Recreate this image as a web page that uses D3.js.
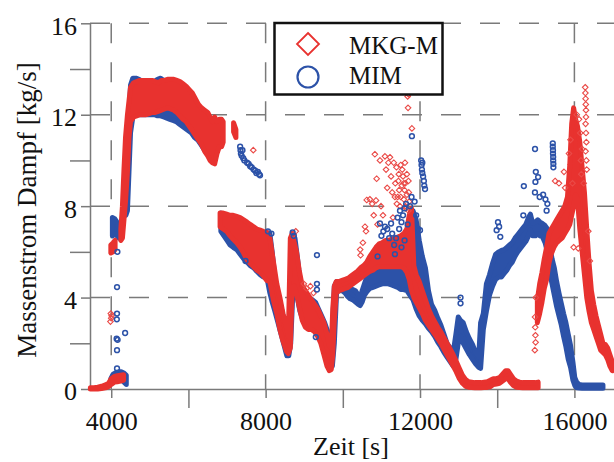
<!DOCTYPE html>
<html>
<head>
<meta charset="utf-8">
<script src="https://cdn.jsdelivr.net/npm/d3@7/dist/d3.min.js"></script>
<style>
  html, body { margin: 0; padding: 0; background: #fff; }
  svg { display: block; }
  text { font-family: "Liberation Serif", "Times New Roman", serif; fill: #111; }
</style>
</head>
<body>
<svg id="chart" width="614" height="462"></svg>
<script>
// Axis ticks
const xMajorTicks = [4000, 8000, 12000, 16000];
const xMinorTicks = [6000, 10000, 14000];
const yMajorTicks = [0, 4, 8, 12, 16];
const yMinorTicks = [2, 6, 10, 14];

const seriesNames = ["MKG-M", "MIM"];

// MKG-M: dense point bands, one row per time step [Zeit s, min kg/s, max kg/s]
const mkgRanges = [
  [3460,0.0,0.06],[3550,0.0,0.06],[3650,0.0,0.08],[3750,0.02,0.12],[3850,0.05,0.18],[3930,0.1,0.25],
  [4000,0.2,0.45],[4080,0.3,0.55],[4160,0.32,0.58],[4240,0.35,0.6],[4320,0.38,0.62],
  [3990,5.95,6.3],[4050,6.0,6.4],[4100,6.1,6.5],
  [4250,6.5,7.0],[4290,6.6,8.0],[4330,7.4,9.6],[4370,8.2,11.0],[4420,9.5,12.0],[4460,11.0,12.6],
  [4500,11.7,13.2],[4580,11.9,13.4],[4660,11.95,13.45],[4740,12.0,13.5],[4820,12.0,13.5],[4900,12.0,13.5],
  [4980,12.05,13.5],[5060,12.1,13.5],[5140,12.1,13.45],[5220,12.15,13.4],[5300,12.2,13.5],[5380,12.25,13.5],
  [5460,12.3,13.55],[5540,12.25,13.55],[5620,12.2,13.55],[5700,12.1,13.5],[5780,11.95,13.45],[5860,11.8,13.35],
  [5940,11.7,13.25],[6020,11.5,13.1],[6100,11.3,12.95],[6180,11.1,12.7],[6260,10.9,12.45],[6340,10.7,12.3],
  [6420,10.4,12.2],[6500,10.2,12.1],[6560,10.0,11.9],[6620,9.9,11.7],[6680,9.85,11.9],[6740,10.3,11.7],
  [6800,10.6,11.8],[6860,10.6,11.8],[6900,10.8,11.7],
  [7170,11.25,11.65],[7230,11.0,11.35],
  [6820,7.1,7.7],[6900,7.0,7.7],[6990,6.9,7.65],[7080,6.7,7.6],[7160,6.55,7.6],[7250,6.4,7.55],
  [7340,6.2,7.5],[7430,5.95,7.4],[7520,5.65,7.3],[7600,5.5,7.2],[7690,5.35,7.1],[7770,5.2,7.0],
  [7860,5.1,6.95],[7940,4.95,6.9],[8030,4.75,6.85],[8110,4.7,6.6],[8200,3.9,5.6],[8290,3.3,4.6],
  [8370,2.6,4.0],[8450,2.1,3.3],[8540,1.65,2.7],[8590,1.55,2.3],
  [8640,1.8,6.6],[8690,4.4,6.8],[8740,4.5,6.4],[8800,4.2,6.0],[8870,3.6,5.2],[8950,3.0,4.5],
  [9030,2.7,4.3],[9110,2.6,4.1],[9190,2.6,3.9],[9270,2.5,3.7],[9350,2.3,3.5],[9430,2.0,3.2],
  [9510,1.5,2.9],[9590,1.0,2.4],[9650,0.8,1.9],[9700,0.85,1.8],[9740,1.5,3.5],[9780,3.0,4.5],
  [9830,4.2,4.7],[9900,4.3,4.7],[9980,4.35,4.75],[10060,4.4,4.8],[10140,4.45,4.85],[10220,4.55,4.95],
  [10300,4.65,5.05],[10380,4.75,5.15],[10460,4.85,5.3],[10540,4.95,5.4],[10620,5.05,5.55],[10700,5.15,5.8],
  [10780,5.2,6.0],[10860,5.3,6.2],[10940,5.35,6.35],[11020,5.35,6.4],[11100,5.35,6.5],[11180,5.35,6.5],
  [11260,5.35,6.55],[11340,5.35,6.6],[11420,5.35,6.65],[11500,5.35,6.7],[11580,5.3,6.8],[11660,5.1,7.0],
  [11720,4.8,7.6],[11780,4.3,7.9],[11840,4.0,5.4],[11900,3.8,5.0],[11980,3.55,4.7],[12060,3.3,4.3],
  [12140,3.0,3.9],[12220,2.8,3.5],[12300,2.6,3.2],[12380,2.4,2.95],[12460,2.2,2.7],[12540,2.0,2.5],
  [12620,1.75,2.25],[12700,1.5,2.0],[12780,1.25,1.75],[12860,1.0,1.5],[12940,0.75,1.2],[13020,0.45,0.9],
  [13100,0.25,0.6],[13180,0.12,0.42],[13260,0.08,0.32],[13340,0.06,0.3],[13420,0.05,0.28],[13500,0.05,0.28],
  [13580,0.05,0.28],[13660,0.06,0.3],[13740,0.07,0.32],[13820,0.1,0.38],[13900,0.2,0.45],[13980,0.22,0.45],
  [14060,0.25,0.5],[14140,0.35,0.65],[14220,0.45,0.8],[14280,0.45,0.8],[14340,0.3,0.65],[14420,0.15,0.45],
  [14500,0.08,0.35],[14580,0.06,0.3],[14660,0.05,0.28],[14740,0.05,0.28],[14820,0.05,0.28],[14900,0.05,0.28],
  [14980,0.06,0.28],[15060,0.06,0.3],
  [15040,2.9,3.9],[15100,3.3,4.6],[15160,3.8,5.1],[15220,4.4,5.7],[15280,4.8,6.2],[15340,5.5,6.8],
  [15400,5.9,7.0],[15470,6.2,7.2],[15540,6.4,7.4],[15610,6.5,7.6],[15680,6.6,7.8],[15750,6.8,8.0],
  [15820,7.0,8.4],[15880,7.2,9.8],[15930,7.6,11.6],[15980,8.0,12.3],[16030,8.5,11.8],[16080,8.3,11.5],
  [16140,7.0,10.8],[16200,6.0,9.7],[16260,5.0,8.6],[16320,4.0,7.0],[16380,3.4,5.5],[16440,2.9,4.3],
  [16500,2.6,3.7],[16560,2.3,3.2],[16620,2.0,2.8],[16680,1.7,2.4],[16740,1.6,2.0],[16800,1.5,1.95],
  [16860,1.3,1.8],[16920,1.0,1.5],[16980,0.8,1.2]
];

// MKG-M: isolated points [Zeit s, kg/s]
const mkgPoints = [
  [3990,3.3],[4000,3.1],[3980,2.95],[4010,3.2],[7680,10.45],
  [8990,4.6],[9060,4.4],[9160,4.5],[9240,4.2],[8780,6.9],[8720,6.75],
  [10450,6.1],[10460,5.85],[10520,6.4],[10574,7.1],[10600,6.9],[10620,8.27],[10700,8.3],[10760,8.1],
  [10800,7.6],[10830,10.27],[10860,8.25],[10876,9.2],[10900,7.2],[10963,10.0],[10990,8.0],[11040,7.6],
  [11092,10.18],[11120,9.6],[11150,8.8],[11180,9.9],[11222,10.14],[11250,9.3],[11280,8.6],[11300,7.5],
  [11320,9.9],[11360,9.0],[11390,9.7],[11420,8.4],[11450,9.4],[11480,8.0],[11500,9.8],[11530,8.9],
  [11560,9.3],[11580,8.3],[11600,8.7],[11620,9.0],[11640,7.9],[11660,8.5],[11680,12.8],[11700,12.9],
  [11690,12.3],[11790,11.4],[11700,7.8],[11720,8.2],[11460,8.7],[11540,9.6],[11610,9.9],[11400,8.1],
  [11350,8.4],[11620,8.0],[11660,9.4],[11700,9.1],[11710,8.6],[11580,9.0],[11500,8.4],[11440,9.1],
  [14980,3.15],[14985,2.7],[14990,2.35],[14995,2.04],[14975,1.7],[15000,4.0],
  [15500,9.1],[15600,9.0],[15730,9.5],[15760,8.8],[15980,6.2],[16100,6.15],
  [15860,10.3],[15900,10.9],[15950,9.0],[16060,12.0],[16120,11.8],[16150,11.2],[16170,10.0],
  [16280,13.2],[16285,12.95],[16290,12.7],[16295,12.45],[16300,12.2],[16300,11.9],[16290,11.6],
  [16300,11.2],[16310,10.8],[16290,10.4],[16310,10.0],[16320,9.6],[16200,10.5],[16180,9.4],
  [16240,9.0],[16360,6.9],[16400,5.6]
];

// MIM: dense point bands [Zeit s, min kg/s, max kg/s]
const mimRanges = [
  [3990,0.22,0.45],[4050,0.3,0.65],[4120,0.35,0.72],[4190,0.38,0.75],[4260,0.4,0.75],[4330,0.3,0.7],[4390,0.2,0.6],
  [4030,6.7,7.5],[4090,6.8,7.45],[4150,6.7,7.3],[4200,6.6,7.0],
  [4380,7.6,8.8],[4420,7.8,10.5],[4460,9.5,12.0],[4500,11.2,13.3],
  [4560,11.9,13.6],[4640,12.0,13.6],[4720,12.0,13.55],[4800,12.0,13.45],[4880,12.0,13.35],[4960,12.0,13.3],
  [5040,12.0,13.35],[5120,12.0,13.45],[5200,11.95,13.55],[5280,11.95,13.6],[5360,11.9,13.5],[5440,11.85,13.3],
  [5520,11.8,13.1],[5600,11.75,12.95],[5680,11.7,12.8],[5760,11.6,12.7],[5840,11.5,12.6],[5920,11.4,12.5],
  [6000,11.3,12.4],[6080,11.2,12.3],[6160,11.0,12.25],[6240,10.9,12.2],[6320,10.7,12.1],[6400,10.5,12.0],
  [6480,10.3,11.9],[6560,10.2,11.8],[6640,10.3,11.8],[6700,10.4,11.6],
  [6840,6.9,7.7],[6920,6.7,7.65],[7000,6.5,7.6],[7080,6.3,7.5],[7160,6.2,7.45],[7250,6.1,7.35],
  [7340,5.9,7.2],[7430,5.7,7.1],[7520,5.55,7.0],[7600,5.4,6.9],[7690,5.3,6.8],[7770,5.15,6.75],
  [7860,5.0,6.75],[7940,4.9,6.8],[8030,4.9,6.85],[8110,4.2,6.8],[8170,3.8,6.0],[8240,3.4,4.9],
  [8320,2.9,4.1],[8400,2.4,3.6],[8480,1.9,3.0],[8550,1.45,2.4],[8600,1.45,1.9],[8650,2.0,5.2],
  [8700,4.0,6.8],[8760,4.4,6.6],[8820,4.0,5.8],[8890,3.4,4.8],[8970,3.0,4.3],[9050,2.9,4.1],
  [9130,2.8,4.0],[9210,2.6,3.9],[9290,2.5,3.8],[9370,2.4,3.5],[9450,2.1,3.2],[9530,1.7,2.9],
  [9610,1.2,2.5],[9680,1.0,2.3],[9730,1.0,2.6],[9780,2.0,4.5],[9840,4.25,4.7],[9910,4.3,4.7],
  [9990,4.3,4.65],[10060,4.2,4.55],[10120,4.05,4.45],[10190,3.95,4.4],[10260,3.9,4.35],[10330,3.8,4.3],
  [10400,3.7,4.1],[10450,3.65,4.0],[10500,3.8,4.3],[10560,4.1,4.6],[10620,4.25,4.9],[10700,4.4,5.1],
  [10780,4.45,5.2],[10860,4.5,5.3],[10940,4.55,5.35],[11020,4.6,5.4],[11100,4.6,5.45],[11180,4.6,5.45],
  [11260,4.55,5.45],[11340,4.5,5.5],[11420,4.45,5.55],[11500,4.35,5.6],[11580,4.35,5.7],[11660,4.3,6.2],
  [11740,4.1,7.6],[11820,3.9,7.8],[11900,3.5,7.4],[11980,3.2,6.5],[12060,3.0,5.8],[12140,2.85,5.3],
  [12220,2.65,4.3],[12300,2.5,3.7],[12380,2.3,3.45],[12460,2.05,3.1],[12540,1.85,2.8],[12620,1.6,2.4],
  [12700,1.4,2.0],[12780,1.2,1.8],[12860,1.0,1.6],[12930,1.3,2.4],[12990,2.0,3.15],[13050,2.3,3.0],
  [13120,2.0,2.9],[13200,1.75,2.5],[13280,1.5,2.2],[13360,1.3,1.95],[13440,1.1,1.6],[13520,0.95,1.4],
  [13570,0.9,2.9],[13640,2.6,3.3],[13720,3.4,4.6],[13800,4.1,5.0],[13880,4.5,5.5],[13960,4.8,5.9],
  [14040,4.9,6.0],[14110,4.9,6.06],[14180,5.05,6.1],[14250,5.2,6.2],[14320,5.4,6.3],[14390,5.55,6.4],
  [14460,5.8,6.6],[14530,6.0,6.75],[14600,6.15,6.9],[14670,6.3,7.05],[14740,6.45,7.2],[14810,6.7,7.5],
  [14860,6.95,7.65],[14920,6.7,7.25],[14990,6.7,7.3],[15050,6.8,7.4],[15110,6.7,7.3],[15170,6.66,7.24],
  [15240,6.4,7.15],[15300,6.0,7.0],[15360,5.1,6.3],[15420,4.6,5.7],[15480,4.1,5.3],[15540,3.6,4.7],
  [15600,3.2,4.2],[15660,2.8,3.75],[15720,2.3,3.3],[15780,1.85,2.9],[15840,1.3,2.4],[15900,0.95,1.9],
  [15960,0.4,1.2],[16010,0.15,0.5],[16060,0.05,0.3],[16120,0.04,0.2],[16200,0.03,0.18],[16280,0.03,0.18],
  [16360,0.03,0.17],[16440,0.03,0.17],[16520,0.03,0.17],[16600,0.03,0.17],[16680,0.03,0.17],[16740,0.03,0.17]
];

// MIM: isolated points [Zeit s, kg/s]
const mimPoints = [
  [4150,4.46],[4150,3.3],[4145,3.05],[4140,2.2],[4165,2.15],[4150,1.7],[4150,0.9],[4360,2.45],[4160,6.0],
  [7340,10.6],[7350,10.45],[7360,10.3],[7380,10.2],[7400,10.45],[7420,10.1],[7450,10.0],[7520,9.9],
  [7560,9.85],[7600,9.75],[7640,9.7],[7690,9.6],[7730,9.55],[7760,9.45],[7800,9.5],[7830,9.4],[7855,9.35],
  [7480,5.6],[8060,6.9],[8150,6.8],[8700,6.85],[8730,6.7],[9330,5.86],[9330,4.6],[9330,4.35],[9300,2.27],
  [10963,7.24],[11000,6.7],[11050,6.9],[11092,7.1],[11150,7.0],[11200,6.6],[11250,7.24],[11280,6.8],
  [11330,6.3],[11380,6.6],[11420,7.5],[11460,7.0],[11481,7.8],[11520,7.3],[11560,7.6],[11600,7.9],
  [11640,8.1],[11680,7.2],[11740,8.0],[11780,8.4],[11790,11.06],[11860,8.2],[11900,7.6],[11950,7.0],
  [12000,6.95],[11350,5.9],[10900,5.8],[11600,6.5],[11520,6.2],
  [12030,10.0],[12040,9.8],[12050,9.6],[12060,9.45],[12080,9.3],[12100,9.1],[12110,8.9],[12130,8.75],[12060,9.9],
  [13050,4.0],[13050,3.75],
  [13985,6.95],[14020,7.3],[14050,7.1],[14080,6.66],[14690,8.88],[14676,7.6],[14978,8.6],[14980,10.5],
  [15000,9.5],[14990,9.06],[15060,9.27],[15190,8.5],[15100,8.4],[15250,8.3],[15300,8.1],[15280,7.8],
  [15440,10.75],[15440,10.6],[15445,10.45],[15445,10.3],[15450,10.15],[15450,10.0],[15455,9.85],[15455,9.7]
];

const red = "#e8322f";
const blue = "#2c52a8";

const svg = d3.select("#chart");
const x = d3.scaleLinear().domain([3450, 17000]).range([90, 613]);
const y = d3.scaleLinear().domain([0, 16]).range([389, 23.3]);

// dashed grid
const grid = svg.append("g").attr("stroke", "#7a7a7a").attr("stroke-width", 1.5)
  .attr("stroke-dasharray", "20,19").attr("fill", "none");
grid.selectAll("line.h").data(yMajorTicks.filter(v => v > 0)).join("line")
  .attr("x1", x.range()[0]).attr("x2", 614).attr("y1", d => y(d)).attr("y2", d => y(d));
grid.selectAll("line.v").data(xMajorTicks).join("line")
  .attr("x1", d => x(d)).attr("x2", d => x(d)).attr("y1", y(16)).attr("y2", y(0));

// axes: long ticks unlabeled, short ticks labeled
const axisColor = "#7a7a7a";
function styleAxis(g) {
  g.attr("font-family", null).attr("font-size", null);
  g.selectAll("path.domain").attr("stroke", axisColor).attr("stroke-width", 1.5);
  g.selectAll(".tick line").attr("stroke", axisColor).attr("stroke-width", 1.5);
  g.selectAll(".tick text").attr("fill", "#111")
    .style("font-family", '"Liberation Serif", "Times New Roman", serif').style("font-size", "26px");
}
const xAxisMinor = svg.append("g").attr("transform", `translate(0,${y(0)})`)
  .call(d3.axisBottom(x).tickValues(xMinorTicks).tickSize(19).tickSizeOuter(0).tickFormat(""));
styleAxis(xAxisMinor);
xAxisMinor.select("path.domain").attr("d", `M${x.range()[0]},0.5H614`);
const xAxisMajor = svg.append("g").attr("transform", `translate(0,${y(0)})`)
  .call(d3.axisBottom(x).tickValues(xMajorTicks).tickSize(9).tickPadding(14).tickFormat(d3.format("d")));
styleAxis(xAxisMajor);
xAxisMajor.select("path.domain").remove();

const yAxisMinor = svg.append("g").attr("transform", `translate(${x.range()[0]},0)`)
  .call(d3.axisLeft(y).tickValues(yMinorTicks).tickSize(20).tickSizeOuter(0).tickFormat(""));
styleAxis(yAxisMinor);
const yAxisMajor = svg.append("g").attr("transform", `translate(${x.range()[0]},0)`)
  .call(d3.axisLeft(y).tickValues(yMajorTicks).tickSize(9).tickPadding(4).tickFormat(d3.format("d")));
styleAxis(yAxisMajor);
yAxisMajor.select("path.domain").remove();
yAxisMajor.selectAll(".tick text").attr("dy", "0.42em");

// data: each band is split into runs of consecutive time steps and drawn as a filled range
const plot = svg.append("g");
function runsOf(rows) {
  const runs = [];
  let cur = [];
  rows.forEach(r => {
    const prev = cur[cur.length - 1];
    if (prev && (r[0] <= prev[0] || r[0] - prev[0] > 130)) { runs.push(cur); cur = []; }
    cur.push(r);
  });
  if (cur.length) runs.push(cur);
  return runs;
}
const band = d3.area().x(d => x(d[0])).y0(d => y(d[1])).y1(d => y(d[2]));
function drawRanges(rows, color) {
  const g = plot.append("g");
  runsOf(rows).forEach(run => {
    g.append("path").datum(run).attr("d", band)
      .attr("fill", color).attr("stroke", color).attr("stroke-width", 5)
      .attr("stroke-linejoin", "round");
  });
}
drawRanges(mimRanges, blue);
drawRanges(mkgRanges, red);

const diamond = s => `M0,${-s}L${s},0L0,${s}L${-s},0Z`;
plot.append("g").selectAll("path").data(mkgPoints).join("path")
  .attr("transform", d => `translate(${x(d[0])},${y(d[1])})`)
  .attr("d", diamond(2.8)).attr("fill", "none").attr("stroke", "#ea4a47").attr("stroke-width", 1.1);
plot.append("g").selectAll("circle").data(mimPoints).join("circle")
  .attr("cx", d => x(d[0])).attr("cy", d => y(d[1])).attr("r", 2.4)
  .attr("fill", "none").attr("stroke", blue).attr("stroke-width", 1.5);

// axis titles
svg.append("text").attr("x", 351).attr("y", 455).attr("text-anchor", "middle")
  .style("font-size", "26px").text("Zeit [s]");
svg.append("text").attr("transform", "translate(36,210) rotate(-90)").attr("text-anchor", "middle")
  .style("font-size", "27px").text("Massenstrom Dampf [kg/s]");

// legend
const legend = svg.append("g");
legend.append("rect").attr("x", 274.5).attr("y", 23).attr("width", 168).attr("height", 71.5)
  .attr("fill", "#fff").attr("stroke", "#111").attr("stroke-width", 2.5);
legend.append("path").attr("transform", "translate(308,44)").attr("d", diamond(11))
  .attr("fill", "none").attr("stroke", red).attr("stroke-width", 1.8);
legend.append("circle").attr("cx", 308).attr("cy", 77).attr("r", 10.5)
  .attr("fill", "none").attr("stroke", blue).attr("stroke-width", 2.2);
legend.selectAll("text").data(seriesNames).join("text")
  .attr("x", 349).attr("y", (d, i) => i === 0 ? 54 : 84)
  .style("font-size", "25px").text(d => d);
</script>
</body>
</html>
